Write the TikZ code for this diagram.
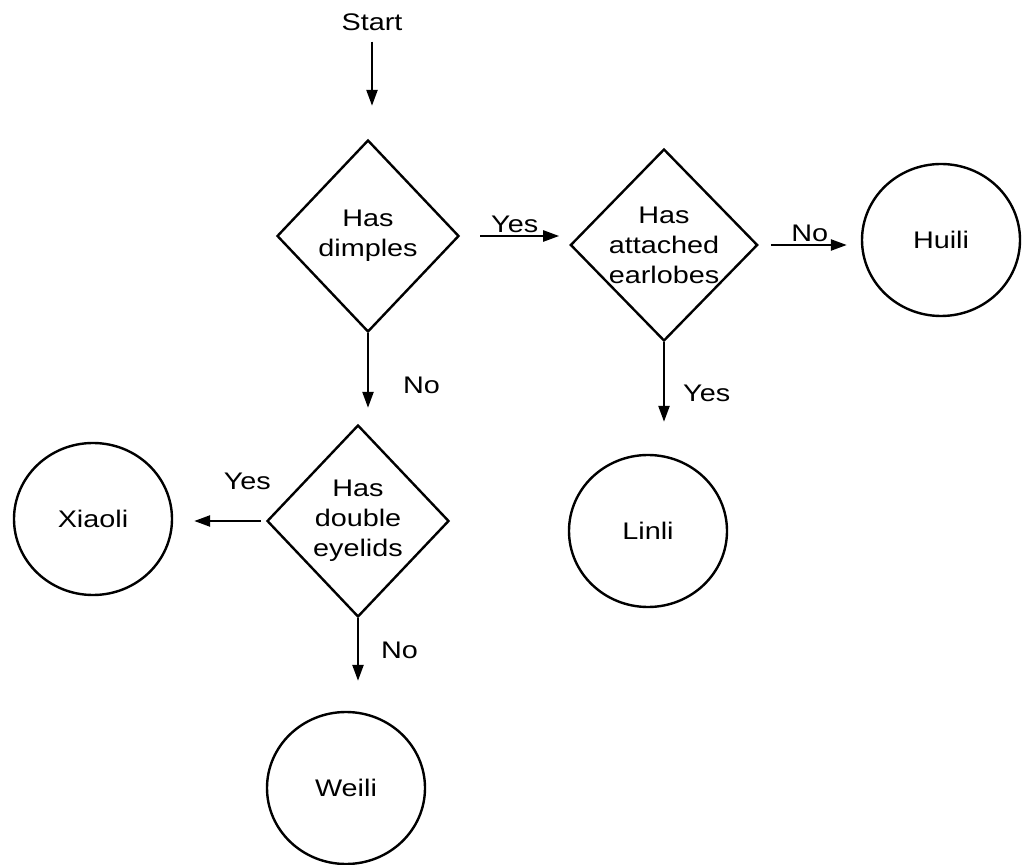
\documentclass[tikz,border=0pt]{standalone}
\usepackage{fontspec}
\setmainfont{Liberation Sans}[FakeStretch=1.2]
\usepackage{tikz}
\usetikzlibrary{arrows.meta, positioning, shapes.geometric}

\begin{document}
\begin{tikzpicture}[x=0.5pt, y=-0.5pt,
        every node/.style={font=\fontsize{12}{15}\selectfont},
        decision/.style={draw, diamond, line width=1.2pt, inner sep=0pt, align=center,
            minimum width=91pt, minimum height=96pt},
        person/.style={draw, ellipse, line width=1.2pt, minimum width=79pt, minimum height=76pt},
        lbl/.style={inner sep=1pt},
        arr/.style={-{Triangle[length=8pt, width=5.5pt]}, line width=1.2pt}]
            \useasboundingbox (0,0) rectangle (1022,865);
            % questions
            \node (start) at (372,22) {Start};
            \node[decision] (dimples) at (368,236) {Has\\dimples};
            \node[decision] (earlobes) at (664,245) {Has\\attached\\earlobes};
            \node[decision] (eyelids) at (358,521) {Has\\double\\eyelids};
            % answers
            \node[person] (huili) at (941,240) {Huili};
            \node[person] (linli) at (648,531) {Linli};
            \node[person] (xiaoli) at (93,519) {Xiaoli};
            \node[person] (weili) at (346,788) {Weili};
            % arrows
            \draw[arr, shorten <=2pt, shorten >=16.5pt] (start.south) -- (start.south |- dimples.north);
            \draw[arr, shorten <=10pt, shorten >=5pt] (dimples.east) -- (dimples.east -| earlobes.west)
                node[lbl, midway, above] {Yes};
            \draw[arr, shorten <=6pt, shorten >=7pt] (earlobes.east) -- (earlobes.east -| huili.west)
                node[lbl, midway, above] {No};
            \draw[arr, shorten >=16pt] (earlobes.south) -- (earlobes.south |- linli.north)
                node[lbl, pos=0.46, right=8pt] {Yes};
            \draw[arr, shorten >=8pt] (dimples.south) -- (dimples.south |- eyelids.north)
                node[lbl, pos=0.58, right=16pt] {No};
            \draw[arr, shorten <=2.5pt, shorten >=10.5pt] (eyelids.west) -- (eyelids.west -| xiaoli.east)
                node[lbl, pos=0.2, above=14pt] {Yes};
            \draw[arr, shorten >=15pt] (eyelids.south) -- (eyelids.south |- weili.north)
                node[lbl, pos=0.35, right=10pt] {No};
        \end{tikzpicture}
\end{document}
